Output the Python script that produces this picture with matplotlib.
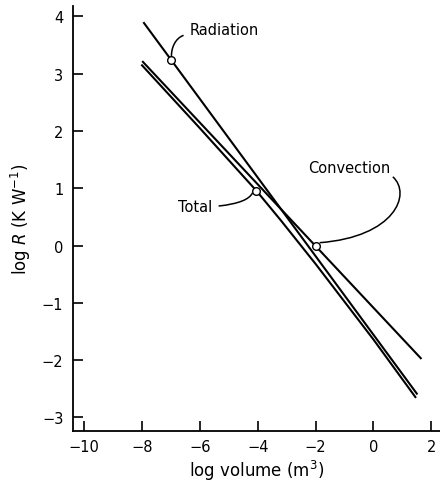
import numpy as np
import matplotlib
matplotlib.use("Agg")
import matplotlib.pyplot as plt
from matplotlib.path import Path
from matplotlib.patches import PathPatch

# ---------------------------------------------------------------------
# Data (log volume in m^3, log R in K/W)
# ---------------------------------------------------------------------
rad_x = [-7.95, 1.52]
rad_y = [3.90, -2.60]

conv_x = [-7.99, 1.66]
conv_y = [3.22, -1.98]

total_x = [-8.02, -6.0, -4.05, -3.2, -2.0, 0.0, 1.47]
total_y = [3.16, 2.05, 0.96, 0.44, -0.32, -1.64, -2.66]

# open-circle markers on each curve
mark_x = [-6.99, -2.0, -4.05]
mark_y = [3.24, 0.0, 0.96]
mark_names = ["Radiation", "Convection", "Total"]

xticks = [-10, -8, -6, -4, -2, 0, 2]
yticks = [-3, -2, -1, 0, 1, 2, 3, 4]

plt.rcParams['font.family'] = ['DejaVu Sans']

fig = plt.figure(figsize=(4.4, 4.89), dpi=100)
ax = fig.add_axes([0.166, 0.117, 0.834, 0.869])

ax.plot(rad_x, rad_y, color='black', lw=1.5, solid_capstyle='butt')
ax.plot(conv_x, conv_y, color='black', lw=1.5, solid_capstyle='butt')
ax.plot(total_x, total_y, color='black', lw=1.5, solid_capstyle='butt')
ax.plot(mark_x, mark_y, 'o', ms=5.5, mfc='white', mec='black', mew=1.0, zorder=5)

# leader curves from labels to markers (cubic beziers, data coords)
leaders = {
    "Radiation": [(-6.56, 3.67), (-6.84, 3.62), (-6.98, 3.46), (-6.98, 3.31)],
    "Convection": [(0.67, 1.20), (1.33, 0.90), (0.74, 0.15), (-1.86, 0.05)],
    "Total": [(-5.35, 0.69), (-4.63, 0.73), (-4.28, 0.81), (-4.18, 0.92)],
}
for name, pts in leaders.items():
    path = Path(pts, [Path.MOVETO, Path.CURVE4, Path.CURVE4, Path.CURVE4])
    ax.add_patch(PathPatch(path, facecolor='none', edgecolor='black', lw=1.1, zorder=4))

ax.text(-6.35, 3.77, "Radiation", ha='left', va='center', fontsize=10.5)
ax.text(-2.27, 1.37, "Convection", ha='left', va='center', fontsize=10.5)
ax.text(-6.77, 0.69, "Total", ha='left', va='center', fontsize=10.5)

# axes styling
ax.set_xlim(-10.38, 2.3)
ax.set_ylim(-3.234, 4.185)
ax.spines['top'].set_visible(False)
ax.spines['right'].set_visible(False)
ax.spines['left'].set_linewidth(1.3)
ax.spines['bottom'].set_linewidth(1.3)

def fmt(v):
    return str(v) if v >= 0 else '\u2212' + str(-v)

ax.set_xticks(xticks)
ax.set_xticklabels([fmt(v) for v in xticks])
ax.set_yticks(yticks)
ax.set_yticklabels([fmt(v) for v in yticks])
ax.tick_params(direction='in', length=7, width=1.2, labelsize=10.5, pad=7)
ax.tick_params(axis='x', pad=6)

ax.set_xlabel("log volume (m$^3$)", fontsize=12, labelpad=3)
ax.set_ylabel("log $\\mathit{R}$ (K W$^{-1}$)", fontsize=12, labelpad=6)

fig.savefig("out.png", dpi=100)
